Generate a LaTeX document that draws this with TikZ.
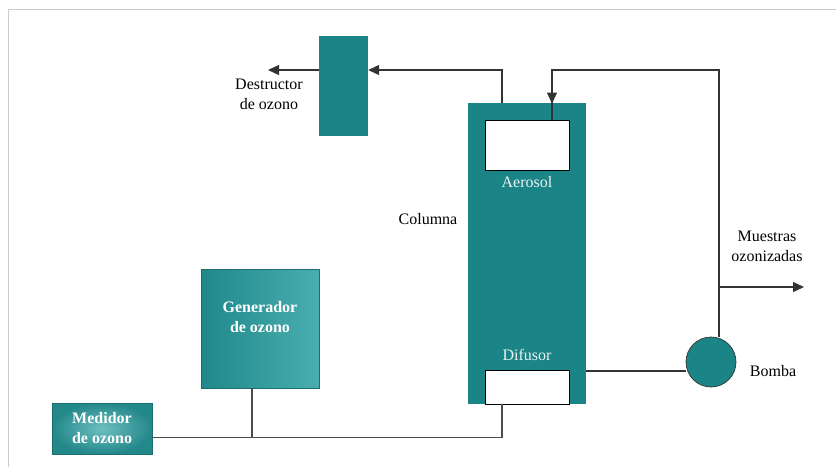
\documentclass[tikz,border=0pt]{standalone}
\usepackage{fontspec}
\setmainfont{Liberation Serif}
\usetikzlibrary{arrows.meta}
\definecolor{teal1}{HTML}{1A8486}
\definecolor{tealL}{HTML}{4AAEB0}
\definecolor{tealD}{HTML}{23888A}
\begin{document}
\begin{tikzpicture}[x=1pt,y=-1pt,
  pipe/.style={draw=black!80, line width=1.1pt},
  arr/.style={pipe, -{Triangle[length=11pt,width=10pt]}},
  lbl/.style={font=\fontsize{16}{20}\selectfont, align=center, inner sep=0pt},
  wlbl/.style={lbl, text=white!92!teal},
  blk/.style={draw=none, fill=teal1, inner sep=0pt},
  btxt/.style={text=white, font=\bfseries\fontsize{16}{20}\selectfont, align=center, inner sep=0pt},
  gbox/.style={draw=tealD!80!black, line width=0.4pt, inner sep=0pt}]
\useasboundingbox (0,0) rectangle (836,467);
\fill[white] (0,0) rectangle (836,467);
\draw[black!20, line width=1.5pt] (8.5,467) -- (8.5,9.5) -- (836,9.5);
% destructor
\node[blk, minimum width=49pt, minimum height=100pt] (des) at (343.5,86) {};
\node[lbl] (destxt) at (269,94) {Destructor\\de ozono};
\coordinate (desout) at (268,70);
% column
\node[blk, minimum width=118pt, minimum height=301pt] (col) at (527,253.5) {};
\node[draw=black, fill=white, line width=0.8pt, minimum width=84pt, minimum height=50pt, inner sep=0pt] (aer) at (527,145) {};
\node[wlbl] (aertxt) at (527,182) {Aerosol};
\node[draw=black, fill=white, line width=0.8pt, minimum width=84pt, minimum height=34pt, inner sep=0pt] (dif) at (527,387) {};
\node[wlbl] (diftxt) at (527,355) {Difusor};
\node[lbl] (coltxt) at (428,219) {Columna};
% pump
\node[circle, draw=black!80, fill=teal1, line width=0.7pt, minimum size=50pt, inner sep=0pt] (pump) at (711,362) {};
\node[lbl] (pumptxt) at (773,371) {Bomba};
\node[lbl] (mtxt) at (767,246) {Muestras\\ozonizadas};
\coordinate (mout) at (804,287);
\coordinate (mj) at (719,287);
% generator and meter
\node[gbox, minimum width=118pt, minimum height=119pt, top color=tealL!85!teal1, bottom color=tealL, left color=teal1!90!tealL, right color=tealL] (gen) at (260,328.5) {};
\node[btxt] (gentxt) at (260,317) {Generador\\de ozono};
\node[gbox, minimum width=100pt, minimum height=51pt, inner color=tealL!80!white, outer color=tealD] (med) at (102,428.5) {};
\node[btxt] (medtxt) at (102,428) {Medidor\\de ozono};
% connectors
\draw[arr] (des.west |- desout) -- (desout);
\draw[arr] (col.north -| 502,0) -- (502,70) -- (des.east |- 0,70);
\draw[pipe] (pump.north -| 719,0) -- (719,70) -- (552,70) -- (aer.north -| 552,0);
\draw[arr] (552,70) -- (552,103.5);
\draw[arr] (mj) -- (mout);
\draw[pipe] (col.east |- 0,371) -- (pump.west |- 0,371);
\draw[pipe, black!70] (med.east |- 0,437.5) -- (502,437.5) -- (dif.south -| 502,0);
\draw[pipe, black!70] (gen.south -| 252,0) -- (252,437.5);
\end{tikzpicture}
\end{document}
